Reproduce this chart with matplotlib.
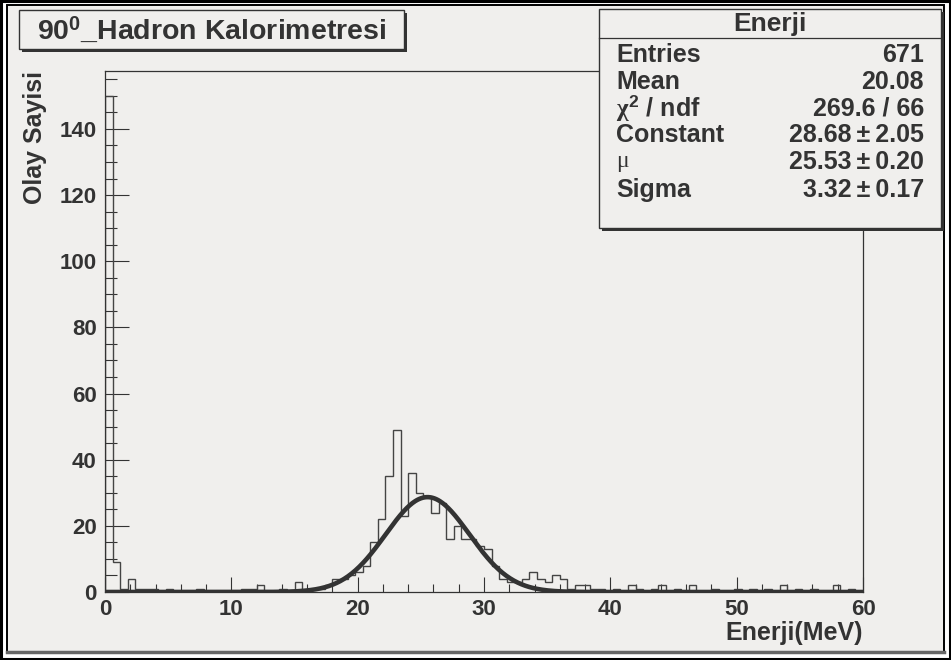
import numpy as np
import matplotlib.pyplot as plt
from matplotlib.patches import Rectangle

plt.rcParams['font.family'] = ['Liberation Sans', 'DejaVu Sans']
plt.rcParams['font.weight'] = 'bold'
plt.rcParams['mathtext.fontset'] = 'custom'
plt.rcParams['mathtext.rm'] = 'Liberation Sans:bold'
plt.rcParams['mathtext.bf'] = 'Liberation Sans:bold'
plt.rcParams['mathtext.it'] = 'Liberation Serif'

# histogram: 100 bins of 0.6 MeV from 0 to 60
x_min, x_max, n_bins = 0, 60, 100
counts = [150, 9, 1, 4, 1, 1, 1, 0, 1, 0,
          0, 0, 1, 0, 0, 0, 0, 0, 1, 1,
          2, 0, 0, 1, 0, 3, 0, 1, 1, 2,
          4, 4, 5, 6, 8, 15, 22, 35, 49, 23,
          36, 30, 29, 24, 27, 16, 20, 16, 16, 14,
          13, 8, 4, 3, 3, 4, 6, 4, 3, 5,
          4, 1, 2, 2, 1, 1, 0, 1, 0, 2,
          1, 0, 1, 2, 0, 1, 0, 2, 0, 0,
          1, 0, 0, 1, 0, 1, 0, 1, 0, 2,
          0, 1, 0, 1, 0, 0, 2, 0, 1, 0]

# gaussian fit parameters (from the stats box)
fit_const, fit_mu, fit_sigma = 28.68, 25.53, 3.32

stat_title = "Enerji"
stat_labels = ["Entries", "Mean", r"$\chi^{2}$ / ndf", "Constant", "\u03bc", "Sigma"]
stat_values = ["671", "20.08", "269.6 / 66", "28.68\u2009\u00b1\u20092.05",
               "25.53\u2009\u00b1\u20090.20", "3.32\u2009\u00b1\u20090.17"]

title = r"90$^{0}$_Hadron Kalorimetresi"
xlabel = "Enerji(MeV)"
ylabel = "Olay Sayisi"

bg = '#f0efed'
ink = '#333333'

fig = plt.figure(figsize=(9.51, 6.6), dpi=100, facecolor=bg)

ax = fig.add_axes([105/951, 1-592/660, 758/951, 521/660])
ax.set_facecolor(bg)
edges = np.linspace(x_min, x_max, n_bins + 1)
ax.stairs(counts, edges, color='#444444', lw=1.0, baseline=0, zorder=2)

xf = np.linspace(x_min, x_max, 800)
ax.plot(xf, fit_const*np.exp(-0.5*((xf - fit_mu)/fit_sigma)**2), color=ink, lw=3.3, zorder=3)

ax.set_xlim(x_min, x_max)
ax.set_ylim(0, max(counts)*1.05)
ax.set_xticks(np.arange(0, 61, 10))
ax.set_xticks(np.arange(0, 61, 2), minor=True)
ax.set_yticks(np.arange(0, 141, 20))
ax.set_yticks(np.arange(0, 156, 5), minor=True)
ax.tick_params(axis='both', which='both', direction='in', colors=ink, width=0.8, labelsize=16)
ax.tick_params(axis='x', which='major', length=11, pad=5)
ax.tick_params(axis='x', which='minor', length=5.5)
ax.tick_params(axis='y', which='major', length=17, pad=6)
ax.tick_params(axis='y', which='minor', length=8.5)
for lab in ax.get_xticklabels() + ax.get_yticklabels():
    lab.set_fontweight('bold')
for s in ax.spines.values():
    s.set_color(ink)
    s.set_linewidth(0.9)

# overlay in pixel coordinates for canvas frame, title and stats boxes
ov = fig.add_axes([0, 0, 1, 1], zorder=10)
ov.set_xlim(0, 951)
ov.set_ylim(660, 0)
ov.axis('off')
ov.patch.set_alpha(0)

ov.add_patch(Rectangle((4, 3.2), 943, 652, fill=False, edgecolor='white', lw=3.5))
ov.add_patch(Rectangle((1.3, 1.3), 948.4, 657.4, fill=False, edgecolor='black', lw=2.2))
ov.add_patch(Rectangle((7, 5), 937, 647, fill=False, edgecolor='black', lw=1.4))
ov.plot([7, 944], [652, 652], color='#666666', lw=2.5)

# title box
ov.add_patch(Rectangle((22, 13), 385, 39, facecolor=ink, edgecolor='none', zorder=3))
ov.add_patch(Rectangle((19, 10), 385, 39, facecolor=bg, edgecolor=ink, lw=1.0, zorder=4))
ov.text(212, 30, title, ha='center', va='center', fontsize=20.5, color=ink, zorder=5)

# stats box
bx, by, bw, bh = 599, 9, 342, 219
ov.add_patch(Rectangle((bx+3, by+3), bw, bh, facecolor=ink, edgecolor='none', zorder=3))
ov.add_patch(Rectangle((bx, by), bw, bh, facecolor=bg, edgecolor=ink, lw=1.0, zorder=4))
ov.plot([bx, bx+bw], [37.5, 37.5], color=ink, lw=0.9, zorder=5)
ov.text(bx+bw/2, 23.5, stat_title, ha='center', va='center', fontsize=19, color=ink, zorder=5)
row_y = [55, 82, 108, 135, 162, 190]
for yy, lab, val in zip(row_y, stat_labels, stat_values):
    if lab == "\u03bc":
        ov.text(616, yy, lab, ha='left', va='center', fontsize=17, color=ink,
                family=['Liberation Serif'], fontweight='normal', zorder=5)
    else:
        ov.text(616, yy, lab, ha='left', va='center', fontsize=18, color=ink, zorder=5)
    ov.text(924, yy, val, ha='right', va='center', fontsize=18, color=ink, zorder=5)

ov.text(35, 71, ylabel, rotation=90, ha='center', va='top', fontsize=18, color=ink)
ov.text(863, 633, xlabel, ha='right', va='center', fontsize=18, color=ink)

fig.savefig('out.png', dpi=100, facecolor=bg)
